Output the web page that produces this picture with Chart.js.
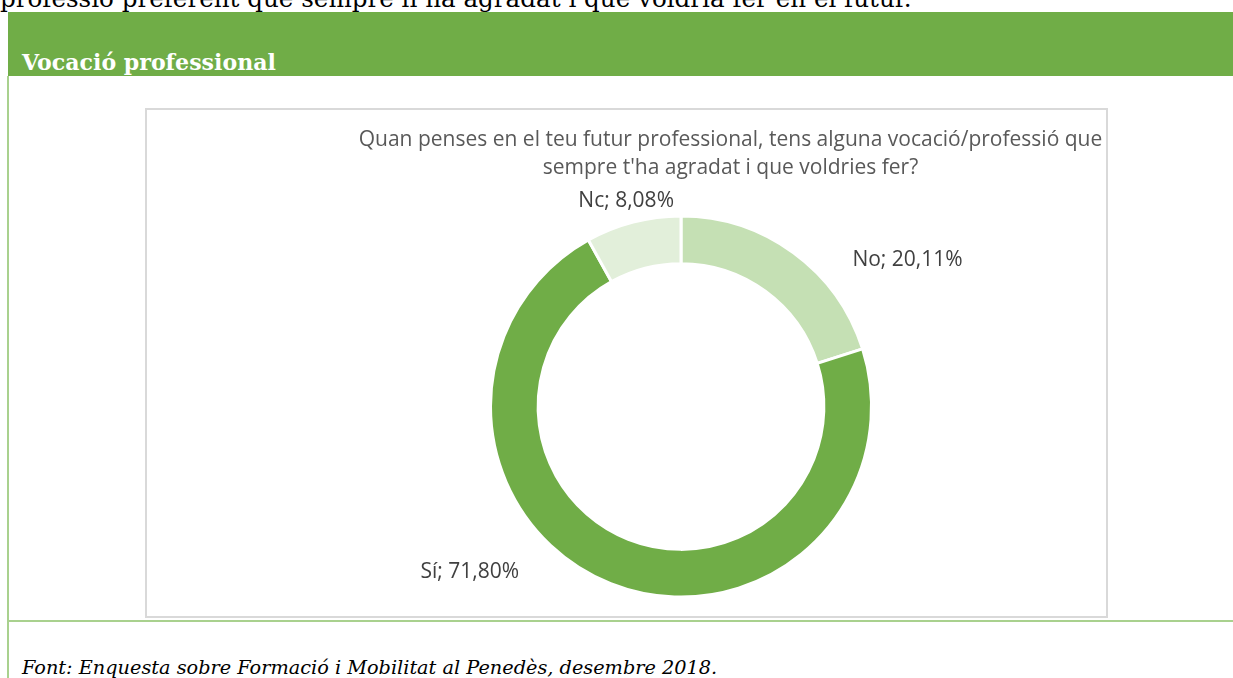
<!DOCTYPE html>
<html>
<head>
<meta charset="utf-8">
<script src="https://cdn.jsdelivr.net/npm/chart.js@4.4.1/dist/chart.umd.min.js"></script>
<style>
    html, body { margin: 0; padding: 0; background: #fff; }
    body { position: relative; width: 1233px; height: 678px; overflow: hidden; }
    .lead { position: absolute; left: 0; top: -16px; line-height: 27px; white-space: nowrap;
            font: 27px "DejaVu Serif", serif; color: #000; }
    .head { position: absolute; left: 8px; top: 12px; width: 1225px; height: 64px; background: #70AD47; }
    .head span { position: absolute; left: 14px; top: 37px; line-height: 28px; white-space: nowrap;
                 font: bold 22px "DejaVu Serif", serif; color: #fff; }
    .side { position: absolute; left: 7px; top: 76px; width: 2px; height: 602px; background: #A9D18E; }
    .rule { position: absolute; left: 7px; top: 620px; width: 1226px; height: 2px; background: #A9D18E; }
    .box { position: absolute; left: 145px; top: 108px; width: 959px; height: 506px; border: 2px solid #D9D9D9; }
    .box canvas { position: absolute; left: 0; top: 0; }
    .title { position: absolute; left: 0; top: 14px; width: 1167px; text-align: center; line-height: 30px;
             font: 21px "Open Sans", sans-serif; color: #595959; pointer-events: none; }
    .source { position: absolute; left: 22px; top: 656px; line-height: 24px; white-space: nowrap;
              font: italic 19.5px "DejaVu Serif", serif; color: #000; }
</style>
</head>
<body>
<div class="lead" data-width="912">professió preferent que sempre li ha agradat i que voldria fer en el futur.</div>
<div class="head"><span data-width="254">Vocació professional</span></div>
<div class="side"></div>
<div class="rule"></div>
<div class="box">
    <canvas id="chart-vocacio" width="959" height="506"></canvas>
    <div class="title">Quan penses en el teu futur professional, tens alguna vocació/professió que<br>sempre t'ha agradat i que voldries fer?</div>
</div>
<div class="source" data-width="696">Font: Enquesta sobre Formació i Mobilitat al Penedès, desembre 2018.</div>

<script>
// Survey answers, percent of respondents
const categories = ['No', 'Sí', 'Nc'];
const shares = [20.11, 71.80, 8.08];
const sliceColors = ['#C5E0B4', '#70AD47', '#E2EFDA'];

// where each label sits relative to the outer edge of its slice
const labelNudge = [[114, 7], [-141, -12], [-7, -21]];

function fmtPct(v) {
    return v.toFixed(2).replace('.', ',') + '%';
}

// shrink/grow the serif texts so they span the same width as in the page scan
document.querySelectorAll('[data-width]').forEach((el) => {
    const want = Number(el.dataset.width);
    const size = parseFloat(getComputedStyle(el).fontSize);
    const have = el.getBoundingClientRect().width;
    if (have > 0) el.style.fontSize = (size * want / have).toFixed(2) + 'px';
});

const outsideLabels = {
    id: 'outsideLabels',
    afterDatasetsDraw(chart) {
        const ctx = chart.ctx;
        const arcs = chart.getDatasetMeta(0).data;
        ctx.save();
        ctx.font = '21px "Open Sans", sans-serif';
        ctx.fillStyle = '#404040';
        ctx.textAlign = 'center';
        ctx.textBaseline = 'middle';
        arcs.forEach((arc, i) => {
            const { x, y, startAngle, endAngle, outerRadius } = arc.getProps(['x', 'y', 'startAngle', 'endAngle', 'outerRadius'], true);
            const mid = (startAngle + endAngle) / 2;
            const px = x + Math.cos(mid) * outerRadius + labelNudge[i][0];
            const py = y + Math.sin(mid) * outerRadius + labelNudge[i][1];
            ctx.fillText(`${categories[i]}; ${fmtPct(shares[i])}`, px, py);
        });
        ctx.restore();
    }
};

new Chart(document.getElementById('chart-vocacio'), {
    type: 'doughnut',
    data: {
        labels: categories,
        datasets: [{
            data: shares,
            backgroundColor: sliceColors,
            borderColor: '#ffffff',
            borderWidth: 3
        }]
    },
    options: {
        responsive: false,
        animation: false,
        devicePixelRatio: 1,
        cutout: '75%',
        layout: { padding: { left: 342, right: 233, top: 104.5, bottom: 17.5 } },
        plugins: {
            legend: { display: false },
            tooltip: { enabled: false },
            title: { display: false }
        }
    },
    plugins: [outsideLabels]
});
</script>
</body>
</html>
